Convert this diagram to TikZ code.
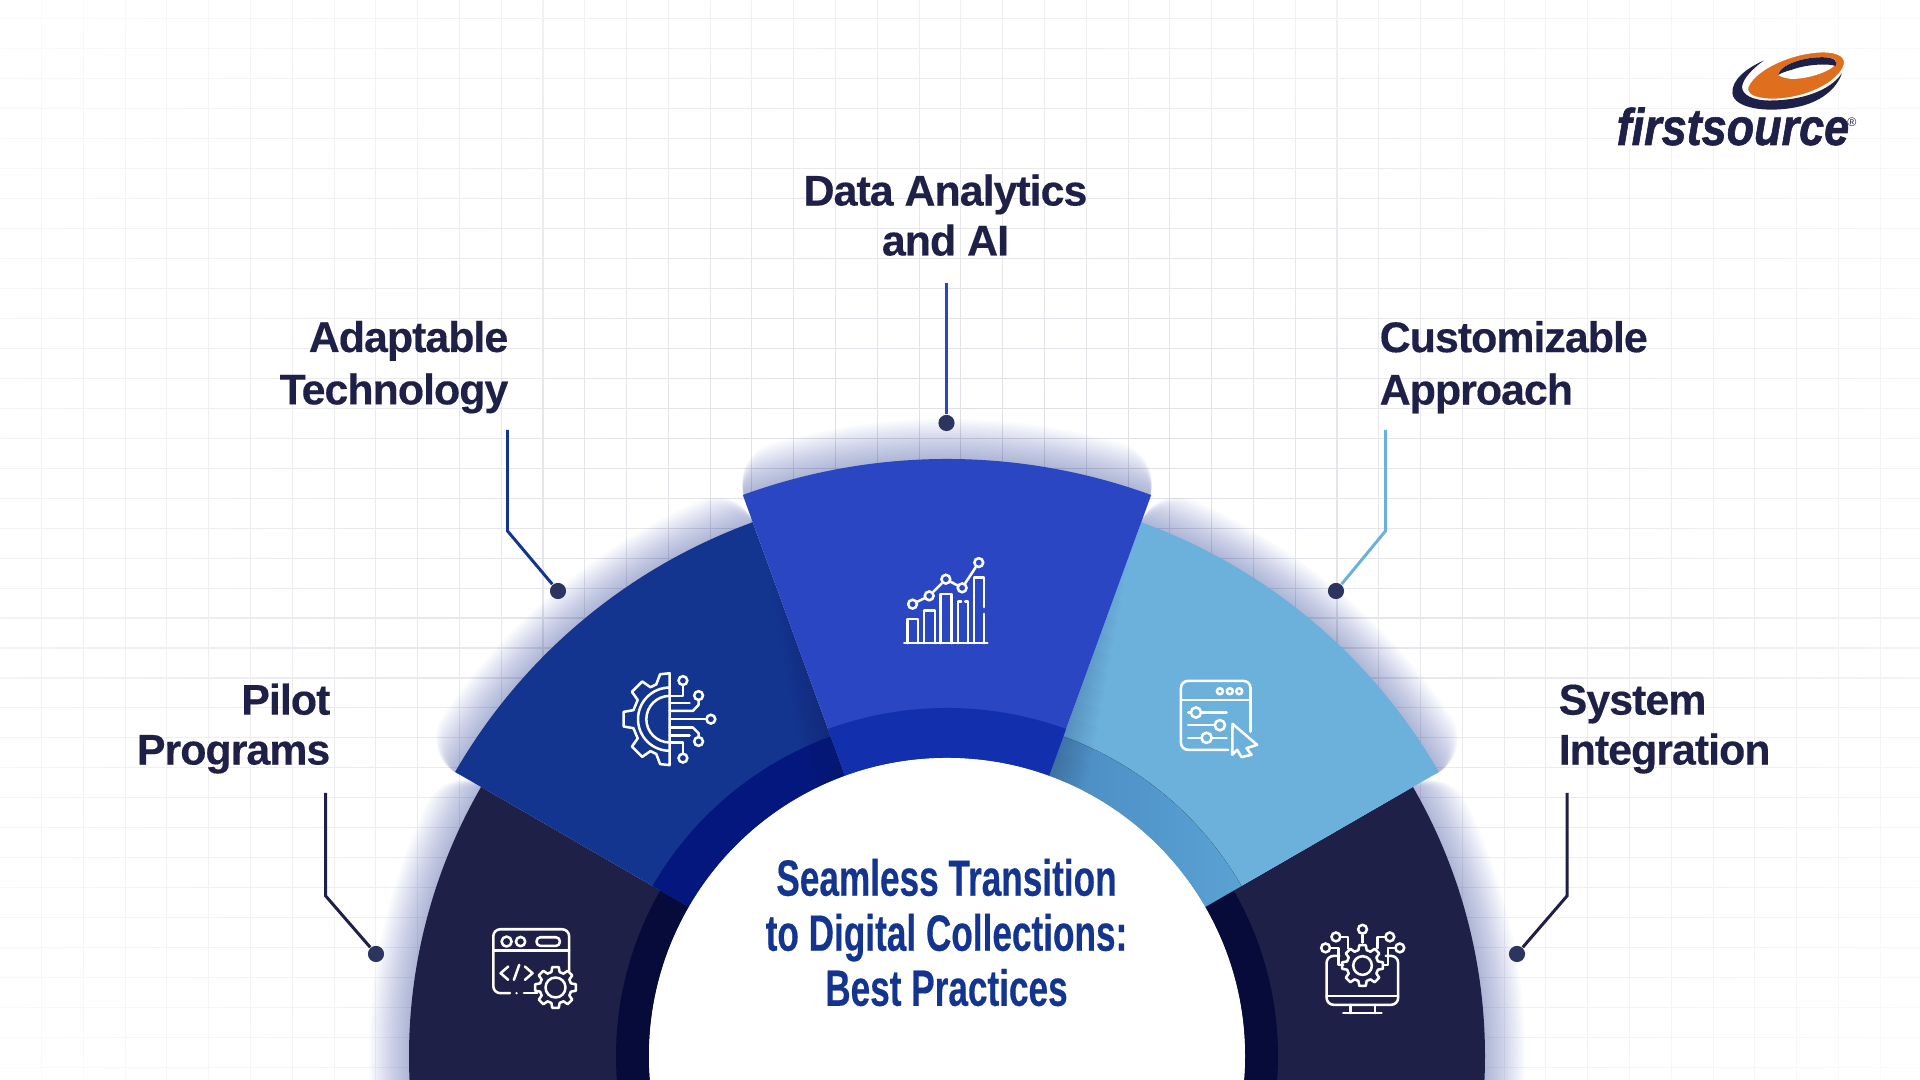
\documentclass[tikz,border=0pt]{standalone}
\usepackage{fontspec}
\setmainfont{Liberation Sans}
\newfontfamily\headingfont[LetterSpace=-2.3,FakeBold=.3]{Liberation Sans}
\newfontfamily\titlefont[FakeStretch=.69,FakeBold=.3]{Liberation Sans}
\newfontfamily\logofont[FakeStretch=.87,FakeBold=1.2]{Liberation Sans}
\usetikzlibrary{fadings}

\definecolor{navyseg}{HTML}{1E2048}
\definecolor{navyband}{HTML}{060B3A}
\definecolor{blueseg}{HTML}{13348F}
\definecolor{blueband}{HTML}{04177F}
\definecolor{royalseg}{HTML}{2A46C2}
\definecolor{royalband}{HTML}{1230AE}
\definecolor{skyseg}{HTML}{6CB0DC}
\definecolor{skyband}{HTML}{5AA2D4}
\definecolor{skybandleft}{HTML}{4A8CC2}
\definecolor{dotgrey}{HTML}{2C3560}
\definecolor{swooshorange}{HTML}{DF6F1E}

\tikzstyle{headingtext} = [inner sep=0, text=navyseg, font=\fontsize{12.2pt}{14.2pt}\selectfont\headingfont\bfseries]
\tikzstyle{tallheading} = [font=\fontsize{12.2pt}{14.9pt}\selectfont\headingfont\bfseries]
\tikzstyle{maintext} = [inner sep=0, align=center, text=blueseg, font=\fontsize{14.5pt}{15.65pt}\selectfont\titlefont\bfseries]
\tikzstyle{leader} = [line width=.85pt]
\tikzstyle{leaderdot} = [circle, fill=dotgrey, inner sep=0, minimum size=4.6pt]
\tikzstyle{iconline} = [draw=white, line width=.72pt, line cap=round, line join=round]
\tikzstyle{iconpin} = [circle, draw=white, line width=.72pt, inner sep=0, minimum size=2.5pt]
\tikzstyle{gridline} = [draw=navyseg!16, line width=.3pt]

\tikzfading[name=gridfade, inner color=transparent!0, outer color=transparent!100]

\newcommand{\ringseg}[5]{\fill[#5] (#1:#3) arc[start angle=#1, end angle=#2, radius=#3] -- (#2:#4) arc[start angle=#2, end angle=#1, radius=#4] -- cycle;}
\newcommand{\outerglow}[3]{\foreach \w in {4,8,...,80} {\pgfmathsetmacro{\glowa}{#1+\w*.05}\pgfmathsetmacro{\glowb}{#2-\w*.05}\draw[line width=\w*.2845pt, line cap=round, draw=royalseg!70!navyseg, opacity=.018] (\glowa:#3) arc[start angle=\glowa, end angle=\glowb, radius=#3];}}
\newcommand{\cogwheel}[5]{\begin{scope}[shift={(#1,#2)}]
\draw[iconline] (-9:#3) \foreach \a in {0,45,...,315} { -- (\a-9:#3) -- (\a+9:#3) -- (\a+15:#4) -- (\a+30:#4)} -- cycle;
\draw[iconline] (0,0) circle[radius=#5];
\end{scope}}

\begin{document}
\begin{tikzpicture}[x=.01cm, y=.01cm]
\useasboundingbox (0,0) rectangle (1920,1080);
\clip (0,0) rectangle (1920,1080);
\fill[white] (0,0) rectangle (1920,1080);

\draw[gridline, path fading=gridfade, fit fading=true]
  \foreach \x in {-418,-376.2,...,2340} {(\x,-407) -- (\x,1487)}
  \foreach \y in {-407,-377,...,1487} {(-418,\y) -- (2340,\y)};

\begin{scope}[shift={(947,24)}]
\outerglow{150}{190}{538}
\outerglow{-10}{30}{538}
\outerglow{110}{150}{568}
\outerglow{30}{70}{568}
\outerglow{70}{110}{597}

\ringseg{150}{190}{538}{298}{navyseg}
\ringseg{-10}{30}{538}{298}{navyseg}
\ringseg{150}{190}{331}{298}{navyband}
\ringseg{-10}{30}{331}{298}{navyband}

\ringseg{110}{150}{568}{298}{blueseg}
\ringseg{110}{150}{340}{298}{blueband}
\ringseg{30}{70}{568}{298}{skyseg}
\ringseg{30}{70}{340}{298}{left color=skybandleft, right color=skyband}

\foreach \w in {6,12,...,72} {\draw[line width=\w*.2845pt, draw=navyseg, opacity=.018] (70:298) -- (70:540-3*\w);
  \draw[line width=\w*.2845pt, draw=navyseg, opacity=.018] (110:298) -- (110:540-3*\w);}
\ringseg{70}{110}{597}{298}{royalseg}
\ringseg{70}{110}{348}{298}{royalband}
\fill[white] (0,0) circle[radius=298];
\end{scope}

\node (maintitle) [maintext, anchor=south] at (946.5,73) {Seamless Transition\\to Digital Collections:\\Best Practices};

\node (pilot) [headingtext, align=right, anchor=south east, outer ysep=5.5pt] at (331,287) {Pilot\\Programs};
\node (adapt) [headingtext, tallheading, align=right, anchor=south east, outer ysep=4.7pt] at (509,650) {Adaptable\\Technology};
\node (analytics) [headingtext, align=center, anchor=south, outer ysep=7.7pt] at (945.5,797) {Data Analytics\\and AI};
\node (custom) [headingtext, tallheading, align=left, anchor=south west, outer ysep=4.7pt] at (1379,650) {Customizable\\Approach};
\node (system) [headingtext, align=left, anchor=south west, outer ysep=5.5pt] at (1558,287) {System\\Integration};

\node (pilotdot) [leaderdot] at (376,126) {};
\node (adaptdot) [leaderdot] at (558,489) {};
\node (analyticsdot) [leaderdot] at (946.5,657) {};
\node (customdot) [leaderdot] at (1336,489) {};
\node (systemdot) [leaderdot] at (1517,126) {};

\coordinate (pilotbend) at (325.7,184);
\coordinate (adaptbend) at (507.5,549);
\coordinate (analyticsbend) at (946.5,700);
\coordinate (custombend) at (1385.5,549);
\coordinate (systembend) at (1567,184);

\draw [leader, navyseg] (pilot.south -| pilotbend) -- (pilotbend) -- (pilotdot);
\draw [leader, blueseg] (adapt.south -| adaptbend) -- (adaptbend) -- (adaptdot);
\draw [leader, royalseg] (analytics.south -| analyticsbend) -- (analyticsdot);
\draw [leader, skyseg] (custom.south -| custombend) -- (custombend) -- (customdot);
\draw [leader, navyseg] (system.south -| systembend) -- (systembend) -- (systemdot);

\begin{scope}[shift={(460,180)}, x=.003333cm, y=-.003333cm]
\draw[iconline, rounded corners=2pt] (150,280) -- (100,280) -- (100,88) -- (328,88) -- (328,215);
\draw[iconline] (170,280) -- (170,280);
\draw[iconline] (192,280) -- (232,280);
\draw[iconline] (100,152) -- (328,152);
\draw[iconline] (140,125) circle[radius=15];
\draw[iconline] (182,125) circle[radius=14];
\draw[iconline, rounded corners=1.1pt] (230,112) rectangle (300,138);
\draw[iconline] (145,200) -- (122,220) -- (145,240);
\draw[iconline] (178,195) -- (162,240);
\draw[iconline] (195,200) -- (218,220) -- (195,240);
\cogwheel{287}{263}{62}{48}{30}
\end{scope}

\begin{scope}[shift={(440,440)}, x=.003333cm, y=-.003333cm]
\begin{scope}[shift={(690,238)}]
\draw[iconline] (270:138) -- (258:138) -- (249:112) \foreach \a in {225,180,135} { -- (\a+14:112) -- (\a+9:140) -- (\a-9:140) -- (\a-14:112)} -- (111:112) -- (102:138) -- (90:138) -- cycle;
\draw[iconline] (270:95) arc[start angle=270, end angle=90, radius=95];
\draw[iconline] (270:70) arc[start angle=270, end angle=90, radius=70];
\end{scope}
\node (adaptpina) [iconpin] at (730,122) {};
\node (adaptpinb) [iconpin] at (777,167) {};
\node (adaptpinc) [iconpin] at (814,238) {};
\node (adaptpind) [iconpin] at (777,305) {};
\node (adaptpine) [iconpin] at (730,355) {};
\draw[iconline] (adaptpina) -- (730,168) -- (690,168);
\draw[iconline] (690,190) -- (750,190);
\draw[iconline] (adaptpinb) -- (777,195) -- (760,213) -- (690,213);
\draw[iconline] (adaptpinc) -- (690,238);
\draw[iconline] (adaptpind) -- (777,280) -- (760,263) -- (690,263);
\draw[iconline] (690,287) -- (750,287);
\draw[iconline] (adaptpine) -- (730,308) -- (690,308);
\end{scope}

\begin{scope}[shift={(840,560)}, x=.003333cm, y=-.003333cm]
\draw[iconline] (193,370) -- (443,370);
\draw[iconline] (203,370) -- (203,297) -- (235,297) -- (235,370);
\draw[iconline] (252,370) -- (252,272) -- (285,272) -- (285,370);
\draw[iconline] (302,370) -- (302,222) -- (335,222) -- (335,370);
\draw[iconline] (354,370) -- (354,245) -- (364,245);
\draw[iconline] (376,245) -- (385,245) -- (385,370);
\draw[iconline] (402,370) -- (402,173) -- (433,173) -- (433,262);
\draw[iconline] (433,282) -- (433,370);
\node (chartpina) [iconpin] at (218,253) {};
\node (chartpinb) [iconpin] at (268,228) {};
\node (chartpinc) [iconpin] at (318,178) {};
\node (chartpind) [iconpin] at (367,204) {};
\node (chartpine) [iconpin] at (417,128) {};
\draw[iconline] (chartpina) -- (chartpinb);
\draw[iconline] (chartpinb) -- (chartpinc);
\draw[iconline] (chartpinc) -- (chartpind);
\draw[iconline] (chartpind) -- (chartpine);
\end{scope}

\begin{scope}[shift={(1150,430)}, x=.003333cm, y=-.003333cm]
\draw[iconline, rounded corners=2pt] (235,300) -- (93,300) -- (93,93) -- (302,93) -- (302,245);
\draw[iconline] (93,150) -- (302,150);
\draw[iconline] (210,124) circle[radius=9];
\draw[iconline] (240,124) circle[radius=9];
\draw[iconline] (268,124) circle[radius=9];
\node (sliderknoba) [iconpin, minimum size=2.9pt] at (138,188) {};
\node (sliderknobb) [iconpin, minimum size=2.9pt] at (210,226) {};
\node (sliderknobc) [iconpin, minimum size=2.9pt] at (170,264) {};
\draw[iconline] (115,188) -- (sliderknoba) -- (230,188);
\draw[iconline] (115,226) -- (sliderknobb);
\draw[iconline] (115,264) -- (sliderknobc) -- (230,264);
\draw[iconline] (248,222) -- (322,285) -- (290,295) -- (305,315) -- (275,322) -- (262,300) -- (247,315) -- cycle;
\end{scope}

\begin{scope}[shift={(1280,180)}, x=.003333cm, y=-.003333cm]
\draw[iconline, rounded corners=2pt] (178,168) -- (140,168) -- (140,315) -- (355,315) -- (355,168) -- (318,168);
\draw[iconline] (140,288) -- (355,288);
\draw[iconline] (212,315) -- (212,340);
\draw[iconline] (285,315) -- (285,340);
\draw[iconline] (190,340) -- (305,340);
\cogwheel{248}{197}{62}{48}{28}
\node (syspina) [iconpin] at (248,88) {};
\node (syspinb) [iconpin] at (168,111) {};
\node (syspinc) [iconpin] at (330,111) {};
\node (syspind) [iconpin] at (137,144) {};
\node (syspine) [iconpin] at (360,144) {};
\draw[iconline] (syspina) -- (248,128);
\draw[iconline] (syspinb) -- (205,111) -- (205,145);
\draw[iconline] (syspinc) -- (293,111) -- (293,145);
\draw[iconline] (syspind) -- (175,144) -- (175,195) -- (190,195);
\draw[iconline] (syspine) -- (325,144) -- (325,195) -- (310,195);
\end{scope}

\begin{scope}[shift={(1580,1050)}, x=.003333cm, y=-.003333cm]
\fill[navyseg] (552,92) .. controls (500,115) and (455,150) .. (458,190) .. controls (462,235) and (560,250) .. (650,232) .. controls (720,218) and (770,180) .. (787,130) .. controls (750,185) and (660,212) .. (570,212) .. controls (520,212) and (485,195) .. (487,170) .. controls (490,145) and (520,115) .. (552,92) -- cycle;
\fill[swooshorange, draw=white, line width=.3pt] (505,170) .. controls (530,115) and (640,68) .. (725,66) .. controls (785,65) and (805,85) .. (790,115) .. controls (760,170) and (660,210) .. (570,208) .. controls (525,205) and (498,195) .. (505,170) -- cycle;
\fill[white] (595,135) .. controls (605,100) and (680,80) .. (735,82) .. controls (775,84) and (780,100) .. (750,118) .. controls (720,135) and (680,145) .. (645,147) .. controls (625,148) and (605,142) .. (595,135) -- cycle;
\fill[navyseg] (595,135) .. controls (605,100) and (680,80) .. (735,82) .. controls (765,84) and (775,94) .. (768,108) .. controls (745,100) and (680,103) .. (635,120) .. controls (615,125) and (605,130) .. (595,135) -- cycle;
\end{scope}
\node (logotext) [inner sep=0, anchor=base west, text=navyseg, font=\fontsize{14.7pt}{16pt}\selectfont\logofont\bfseries\itshape] at (1616,935) {firstsource};
\node (logomark) [inner sep=0, text=navyseg, font=\fontsize{3.5pt}{4pt}\selectfont] at (1852,958) {®};
\end{tikzpicture}
\end{document}
